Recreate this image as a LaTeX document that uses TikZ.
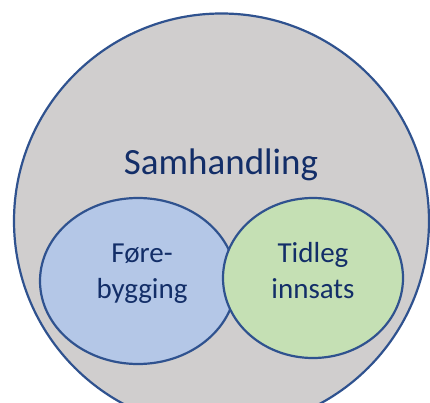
\documentclass[tikz,border=0pt]{standalone}
\usepackage{fontspec}
\setmainfont{Carlito}
\usetikzlibrary{shapes.geometric}
\definecolor{edge}{HTML}{2F528F}
\definecolor{txt}{HTML}{132E68}
\definecolor{grayfill}{HTML}{D0CECE}
\definecolor{bluefill}{HTML}{B4C7E7}
\definecolor{greenfill}{HTML}{C5E0B4}
\tikzset{
  blob/.style={ellipse, draw=edge, line width=2.2pt, inner sep=0pt},
  lbl/.style={text=txt, align=center, font=\fontsize{29}{35.5}\selectfont}
}
\begin{document}
\begin{tikzpicture}[x=1pt,y=-1pt]
\useasboundingbox (0,0) rectangle (430,403);
\clip (0,0) rectangle (430,403);
\fill[white] (0,0) rectangle (430,403);
\node[blob, fill=grayfill, minimum width=415pt, minimum height=415pt] (outer) at (221.5,221) {};
\node[blob, fill=bluefill, minimum width=196pt, minimum height=166pt] (fore) at (138,281) {};
\node[blob, fill=greenfill, minimum width=180pt, minimum height=160pt] (tidleg) at (313,278) {};
\node[text=txt, font=\fontsize{37}{44}\selectfont, anchor=base] (sam) at (221,175) {Samhandling};
\node[lbl, anchor=base] (t1) at (142,298) {Føre-\\bygging};
\node[lbl, anchor=base] (t2) at (313,298) {Tidleg\\innsats};
\end{tikzpicture}
\end{document}
